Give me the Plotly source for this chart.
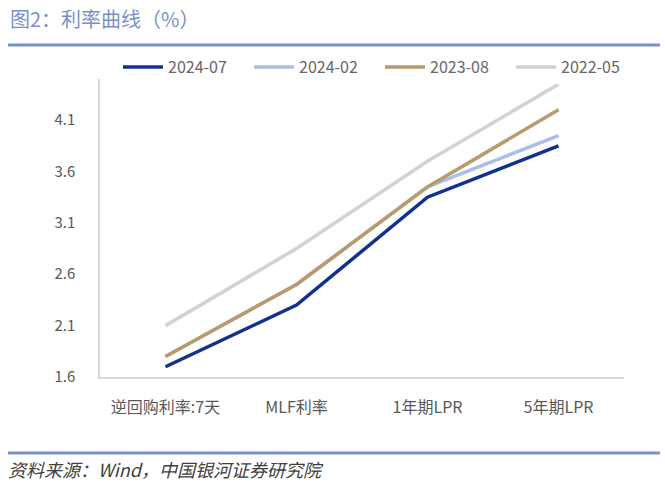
import plotly.graph_objects as go

categories = ["逆回购利率:7天", "MLF利率", "1年期LPR", "5年期LPR"]
s_2024_07 = [1.70, 2.30, 3.35, 3.85]
s_2024_02 = [1.80, 2.50, 3.45, 3.95]
s_2023_08 = [1.80, 2.50, 3.45, 4.20]
s_2022_05 = [2.10, 2.85, 3.70, 4.45]
series_names = ["2024-07", "2024-02", "2023-08", "2022-05"]
series_vals = [s_2024_07, s_2024_02, s_2023_08, s_2022_05]
colors = ["#12318f", "#a8bfe6", "#b99a6b", "#d2d2d2"]
y_ticks = [1.6, 2.1, 2.6, 3.1, 3.6, 4.1]

W, H = 665, 490
L, R, T, B = 100, 41, 79, 113
pw, ph = W - L - R, H - T - B

def px(x):
    return (x - L) / pw

def py(y):
    return (H - B - y) / ph

fig = go.Figure()
for name, vals, c in zip(series_names, series_vals, colors):
    fig.add_trace(go.Scatter(x=categories, y=vals, name=name, mode="lines",
                             line=dict(color=c, width=3.5)))

font_main = "Noto Sans CJK SC, Noto Sans, sans-serif"
fig.update_layout(
    width=W, height=H,
    margin=dict(l=L, r=R, t=T, b=B),
    plot_bgcolor="white", paper_bgcolor="white",
    font=dict(family=font_main, color="#595959", size=15),
    showlegend=True,
    legend=dict(orientation="h", x=px(380), xanchor="center", y=py(67), yanchor="middle",
                font=dict(size=16, color="#666666"), itemwidth=40,
                entrywidth=76, entrywidthmode="pixels",
                traceorder="normal"),
    xaxis=dict(range=[-0.5, 3.5], showgrid=False, showline=True, linecolor="#d9d9d9", linewidth=1.5,
               ticks="", tickfont=dict(size=16, color="#595959"),
               ticklabelstandoff=15, zeroline=False),
    yaxis=dict(range=[1.6, 4.5], tickvals=y_ticks, ticktext=[f"{v:.1f}" for v in y_ticks],
               showgrid=False, showline=True, linecolor="#d9d9d9", linewidth=1.5,
               ticks="", tickfont=dict(size=15, color="#595959"),
               ticklabelstandoff=20, zeroline=False),
    shapes=[
        dict(type="line", xref="paper", yref="paper", x0=px(8), x1=px(660), y0=py(45), y1=py(45),
             line=dict(color="#7a8fc6", width=3)),
        dict(type="line", xref="paper", yref="paper", x0=px(8), x1=px(660), y0=py(453), y1=py(453),
             line=dict(color="#7a8fc6", width=3)),
    ],
    annotations=[
        dict(text="图2：利率曲线（%）", xref="paper", yref="paper", x=px(8), y=py(18),
             xanchor="left", yanchor="middle", showarrow=False,
             font=dict(size=20, color="#7a8fc6", family=font_main)),
        dict(text="<i>资料来源：Wind，中国银河证券研究院</i>", xref="paper", yref="paper",
             x=px(6), y=py(469), xanchor="left", yanchor="middle", showarrow=False,
             font=dict(size=18, color="#404040", family=font_main)),
    ],
)

fig.write_html("out.html", config={"displayModeBar": False},
               post_script="document.body.style.margin='0';document.body.style.overflow='hidden';")
